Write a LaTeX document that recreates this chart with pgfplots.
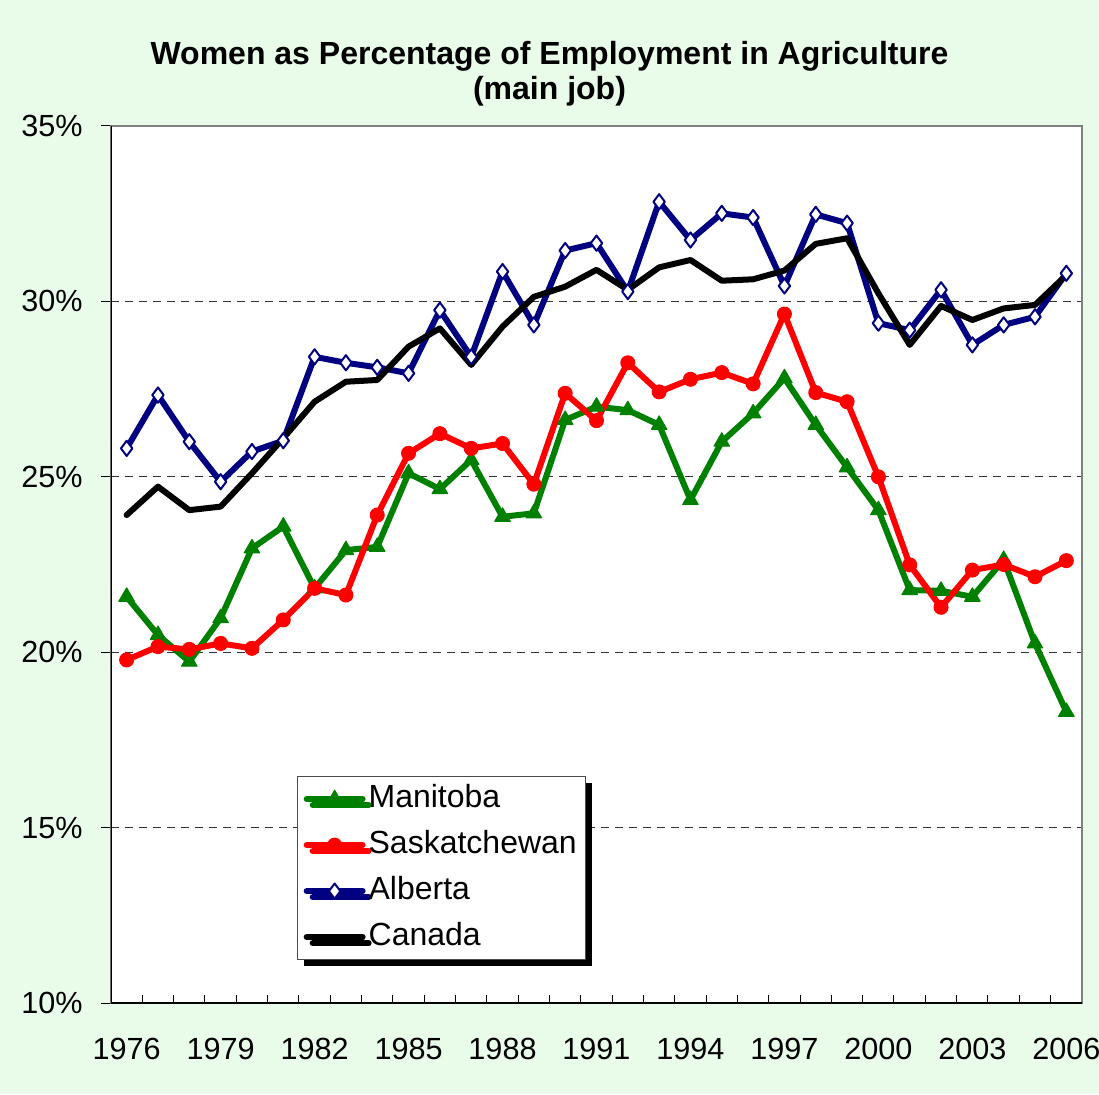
\documentclass[border=0pt]{standalone}
\usepackage{pgfplots}
\pgfplotsset{compat=1.18}
\usepackage{fontspec}
\setmainfont{Liberation Sans}
\usetikzlibrary{shadows}
\definecolor{bgc}{RGB}{233,252,233}
\definecolor{mgreen}{RGB}{0,128,0}
\definecolor{sred}{RGB}{255,0,0}
\definecolor{anavy}{RGB}{0,0,128}
\pgfplotstableread{
year man sask alb can
1976 21.58 19.78 25.81 23.91
1977 20.49 20.16 27.33 24.72
1978 19.73 20.08 26.00 24.05
1979 20.97 20.25 24.86 24.15
1980 22.96 20.11 25.72 25.10
1981 23.58 20.92 26.03 26.10
1982 21.82 21.82 28.42 27.14
1983 22.91 21.63 28.25 27.71
1984 23.00 23.91 28.12 27.76
1985 25.10 25.67 27.95 28.71
1986 24.65 26.23 29.75 29.23
1987 25.48 25.81 28.42 28.19
1988 23.86 25.95 30.85 29.28
1989 23.96 24.79 29.33 30.13
1990 26.62 27.38 31.45 30.42
1991 27.00 26.60 31.66 30.90
1992 26.90 28.25 30.28 30.33
1993 26.48 27.42 32.84 30.97
1994 24.34 27.78 31.75 31.18
1995 26.00 27.97 32.51 30.59
1996 26.81 27.65 32.39 30.63
1997 27.81 29.64 30.44 30.88
1998 26.48 27.40 32.48 31.64
1999 25.27 27.14 32.23 31.80
2000 24.05 25.00 29.38 30.23
2001 21.77 22.49 29.18 28.76
2002 21.75 21.28 30.33 29.87
2003 21.58 22.34 28.76 29.47
2004 22.63 22.50 29.33 29.80
2005 20.25 22.15 29.56 29.90
2006 18.30 22.61 30.80 30.75
}\datatable
\begin{document}
\begin{tikzpicture}
\fill[bgc] (-55.5pt,-45.5pt) rectangle (494pt,501.5pt);
\begin{axis}[
  scale only axis,
  width=485.5pt, height=438.5pt,
  xmin=1975.5, xmax=2006.5,
  ymin=10, ymax=35,
  axis background/.style={fill=white},
  axis line style={draw=gray, line width=0.6pt},
  xtick={1976,1979,...,2006},
  xticklabels={1976,1979,1982,1985,1988,1991,1994,1997,2000,2003,2006},
  minor xtick={1975.5,1976.5,...,2006.5},
  major x tick style={draw=none},
  minor x tick style={black, line width=0.5pt},
  minor tick length=4pt,
  xtick align=inside,
  xtick pos=bottom,
  ytick={10,15,20,25,30,35},
  yticklabels={10\%,15\%,20\%,25\%,30\%,35\%},
  ytick align=outside,
  ytick pos=left,
  major tick length=5pt,
  ytick style={black, line width=0.5pt},
  ymajorgrids,
  major grid style={black!80, line width=0.5pt, dash pattern=on 4pt off 3pt},
  tick label style={font=\fontsize{15.3}{18}\selectfont},
  yticklabel style={anchor=east, inner sep=0pt, xshift=-9pt},
  xticklabel style={anchor=north, inner sep=0pt, yshift=-17.5pt},
  every axis plot/.append style={line width=3pt, line join=round, line cap=round},
  legend cell align=left,
  legend style={at={(0.1916,0.2588)}, anchor=north west,
    draw=gray!60!black, line width=0.6pt, fill=white,
    drop shadow={shadow xshift=3pt, shadow yshift=-3pt, fill=black, opacity=1},
    font=\fontsize{16}{19}\selectfont,
    inner xsep=3pt, inner ysep=2pt, row sep=4.5pt,
    nodes={inner sep=1.5pt, text height=12pt, text depth=3.5pt}},
  legend image code/.code={\draw[mark repeat=2,mark phase=2] plot coordinates {(0pt,0pt) (14pt,0pt) (28pt,0pt)};},
]
\addplot[mgreen, mark=triangle*, mark size=4.5pt, mark options={line width=0.5pt, fill=mgreen}] table[x=year,y=man] {\datatable};
\addlegendentry{Manitoba}
\addplot[sred, mark=*, mark size=3.5pt, mark options={line width=0.5pt, fill=sred}] table[x=year,y=sask] {\datatable};
\addlegendentry{Saskatchewan}
\addplot[anavy, mark=diamond*, mark size=3.8pt, mark options={line width=1pt, fill=white, draw=anavy}] table[x=year,y=alb] {\datatable};
\addlegendentry{Alberta}
\addplot[black, no marks] table[x=year,y=can] {\datatable};
\addlegendentry{Canada}
\draw[black, line width=1pt] (rel axis cs:0,1) -- (rel axis cs:0,0) -- (rel axis cs:1,0);
\end{axis}
\node[anchor=base, font=\bfseries\fontsize{16}{19}\selectfont] at (219.25pt,469pt) {Women as Percentage of Employment in Agriculture};
\node[anchor=base, font=\bfseries\fontsize{16}{19}\selectfont] at (219.25pt,451.5pt) {(main job)};
\pgfresetboundingbox
\path[use as bounding box] (-55.5pt,-45.5pt) rectangle (494pt,501.5pt);
\end{tikzpicture}
\end{document}
